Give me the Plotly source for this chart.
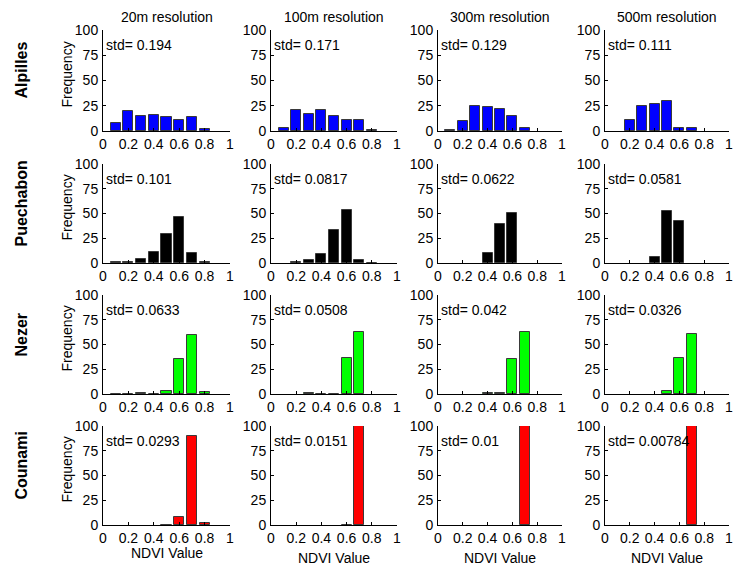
import plotly.graph_objects as go

W, H = 747, 569

bin_centers = [0.1, 0.2, 0.3, 0.4, 0.5, 0.6, 0.7, 0.8, 0.9]
resolutions = ["20m resolution", "100m resolution", "300m resolution", "500m resolution"]
sites = ["Alpilles", "Puechabon", "Nezer", "Counami"]
site_colors = ["#0000FF", "#000000", "#00FF00", "#FF0000"]

# frequency per bin, per site (rows) and resolution (columns)
alpilles_20 = [8, 20, 15, 16, 14, 11, 14, 2, 0]
alpilles_100 = [2.5, 21, 17, 21, 15, 11, 11, 1, 0]
alpilles_300 = [1, 10, 25, 24, 22, 15, 3, 0, 0]
alpilles_500 = [0, 11, 25, 27, 30, 3, 3, 0, 0]

puechabon_20 = [0.6, 1.5, 4, 11, 29, 46, 10, 0.8, 0]
puechabon_100 = [0, 1, 3, 9, 33, 54, 3, 0.5, 0]
puechabon_300 = [0, 0, 0, 10, 39, 51, 0, 0, 0]
puechabon_500 = [0, 0, 0, 6, 53, 42, 0, 0, 0]

nezer_20 = [0.4, 0.4, 1, 0.5, 3, 35, 60, 2, 0]
nezer_100 = [0, 0, 1, 0.5, 0.5, 36, 63, 0, 0]
nezer_300 = [0, 0, 0, 1, 1, 35, 63, 0, 0]
nezer_500 = [0, 0, 0, 0, 3, 36, 61, 0, 0]

counami_20 = [0, 0, 0, 0, 0.5, 8, 90, 2, 0]
counami_100 = [0, 0, 0, 0, 0, 0.5, 100, 0, 0]
counami_300 = [0, 0, 0, 0, 0, 0, 100, 0, 0]
counami_500 = [0, 0, 0, 0, 0, 0, 100, 0, 0]

std_alpilles = ["0.194", "0.171", "0.129", "0.111"]
std_puechabon = ["0.101", "0.0817", "0.0622", "0.0581"]
std_nezer = ["0.0633", "0.0508", "0.042", "0.0326"]
std_counami = ["0.0293", "0.0151", "0.01", "0.00784"]

x_ticks = [0, 0.2, 0.4, 0.6, 0.8, 1]
y_ticks = [0, 25, 50, 75, 100]

freq = [
    [alpilles_20, alpilles_100, alpilles_300, alpilles_500],
    [puechabon_20, puechabon_100, puechabon_300, puechabon_500],
    [nezer_20, nezer_100, nezer_300, nezer_500],
    [counami_20, counami_100, counami_300, counami_500],
]
stds = [std_alpilles, std_puechabon, std_nezer, std_counami]

# layout in pixels
col_px = [(103, 230), (271, 397), (438, 562), (605, 729)]
row_px = [(30, 131), (164, 263), (295, 394), (426, 525)]

FONT = "Liberation Sans, Arial, sans-serif"

fig = go.Figure()
layout = dict(
    width=W, height=H, autosize=False,
    margin=dict(l=0, r=0, t=0, b=0, pad=0),
    paper_bgcolor="white", plot_bgcolor="white",
    showlegend=False, bargap=0,
    font=dict(family=FONT, size=14, color="black"),
)
annotations = []


def ann(xpx, ypx, text, **kw):
    d = dict(x=xpx / W, y=1 - ypx / H, xref="paper", yref="paper", text=text,
             showarrow=False, font=dict(family=FONT, size=14, color="black"))
    d.update(kw)
    annotations.append(d)


k = 0
for r in range(4):
    for c in range(4):
        k += 1
        xa = "x" if k == 1 else f"x{k}"
        ya = "y" if k == 1 else f"y{k}"
        vals = freq[r][c]
        xs = [b for b, v in zip(bin_centers, vals) if v > 0]
        ys = [v for v in vals if v > 0]
        fig.add_trace(go.Bar(
            x=xs, y=ys, width=0.08, xaxis=xa, yaxis=ya,
            marker=dict(color=site_colors[r], line=dict(color="#3a3a3a", width=1)),
            hoverinfo="skip",
        ))
        x0, x1 = col_px[c]
        y0, y1 = row_px[r]
        axis_common = dict(
            showline=True, linecolor="black", linewidth=1, mirror=False,
            ticks="inside", ticklen=3, tickcolor="black", showgrid=False,
            zeroline=False, tickfont=dict(family=FONT, size=14, color="black"),
            fixedrange=True, automargin=False,
        )
        layout["xaxis" if k == 1 else f"xaxis{k}"] = dict(
            axis_common, domain=[x0 / W, x1 / W], range=[0, 1],
            tickvals=x_ticks, ticktext=[("%g" % t) for t in x_ticks],
            anchor=ya,
        )
        layout["yaxis" if k == 1 else f"yaxis{k}"] = dict(
            axis_common, domain=[1 - y1 / H, 1 - y0 / H], range=[0, 100],
            tickvals=y_ticks, anchor=xa, ticklabelstandoff=1,
        )
        ann(x0 + 1, y0 + 15, f"std= {stds[r][c]}", xanchor="left", yanchor="middle")

# column titles and x-axis titles
for c in range(4):
    x0, x1 = col_px[c]
    ann((x0 + x1) / 2, 17, resolutions[c], xanchor="center", yanchor="middle")
    ann((x0 + x1) / 2, 553 if c == 0 else 558, "NDVI Value", xanchor="center", yanchor="middle")

# row labels and Frequency
for r in range(4):
    y0, y1 = row_px[r]
    ann(21, (y0 + y1) / 2 - 10, f"<b>{sites[r]}</b>", textangle=-90,
        xanchor="center", yanchor="middle",
        font=dict(family=FONT, size=16, color="black"))
    ann(66, (y0 + y1) / 2 - 6, "Frequency", textangle=-90,
        xanchor="center", yanchor="middle")

layout["annotations"] = annotations
fig.update_layout(**layout)
fig.write_html("out.html", config={"responsive": False})
